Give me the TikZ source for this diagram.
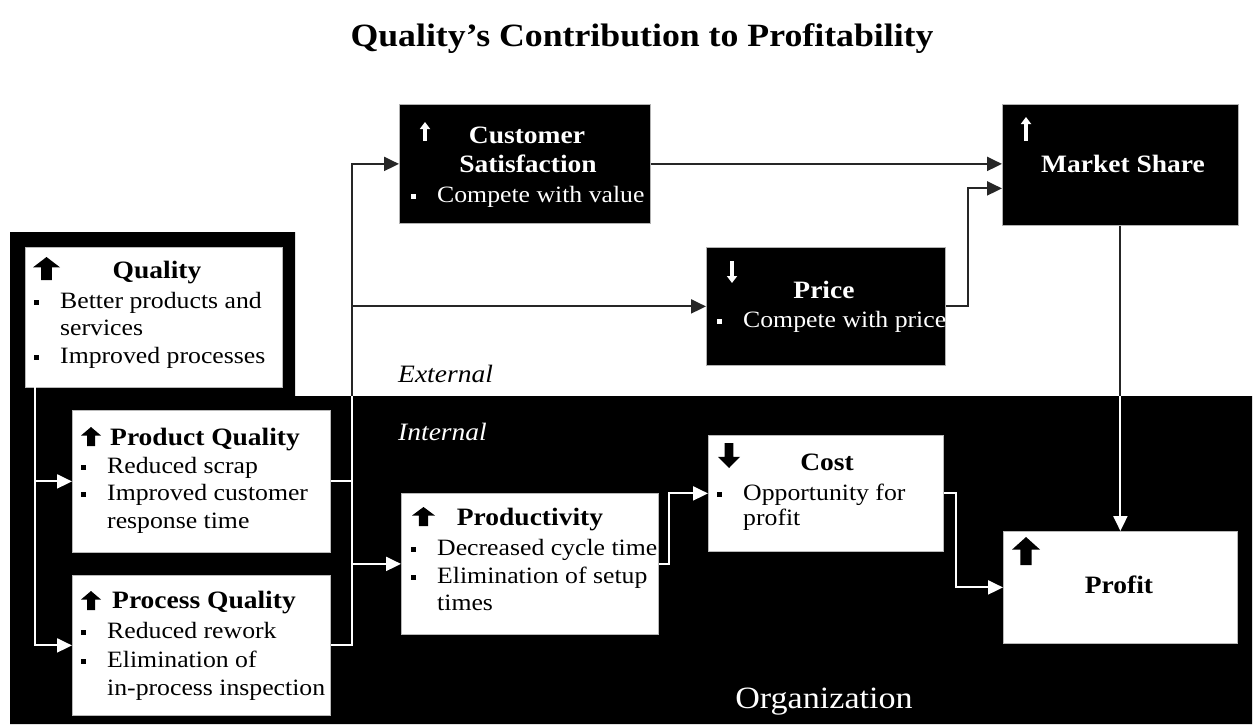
\documentclass[tikz,border=0pt]{standalone}
\usepackage{fontspec}
\setmainfont{Liberation Serif}[FakeStretch=1.1]
\usetikzlibrary{arrows.meta}

% small square bullet hanging to the left of an item
\newcommand\bulitem{\llap{\rule[3pt]{5.5pt}{5.5pt}\hspace{21pt}}}
% heavy block arrows: left x, top y, width, height
\newcommand\blockup[4]{%
  \fill (#1+#3/2,#2) -- (#1+#3,#2+0.45*#4) -- (#1+0.7*#3,#2+0.45*#4) -- (#1+0.7*#3,#2+#4)
     -- (#1+0.3*#3,#2+#4) -- (#1+0.3*#3,#2+0.45*#4) -- (#1,#2+0.45*#4) -- cycle;}
\newcommand\blockdown[4]{%
  \fill (#1+#3/2,#2+#4) -- (#1+#3,#2+0.55*#4) -- (#1+0.7*#3,#2+0.55*#4) -- (#1+0.7*#3,#2)
     -- (#1+0.3*#3,#2) -- (#1+0.3*#3,#2+0.55*#4) -- (#1,#2+0.55*#4) -- cycle;}

\tikzset{
  wbox/.style={draw=gray!55, line width=0.8pt, fill=white, inner sep=0pt, anchor=north west},
  bbox/.style={draw=gray!60, line width=0.8pt, fill=black, inner sep=0pt, anchor=north west},
  body/.style={font=\fontsize{23.4}{28}\selectfont, inner sep=0pt, anchor=base west},
  headc/.style={font=\fontsize{25}{28}\selectfont\bfseries, inner sep=0pt, anchor=base},
  headl/.style={font=\fontsize{25}{28}\selectfont\bfseries, inner sep=0pt, anchor=base west},
  conn/.style={line width=2pt, draw=wirecol},
  arr/.style={conn, -{Triangle[length=15pt,width=14pt]}},
  thinarr/.style={white, line width=3.4pt, -{Triangle[length=7pt,width=10pt]}},
}

% all connectors; drawn twice, clipped to the white and the black zone
\newcommand\wiring{%
  \coordinate (qtap) at (35,387);
  \coordinate (busx) at (352,0);
  \draw[arr] (qtap) |- (prodq.west);
  \draw[arr] (qtap) |- (procq.west);
  \draw[conn] (prodq.east) -- (prodq.east -| busx);
  \draw[arr] (procq.east) -| (custsat.west -| busx) -- (custsat.west);
  \draw[arr] (price.west -| busx) -- (price.west);
  \draw[arr] (prodv.west -| busx) -- (prodv.west);
  \draw[arr] (prodv.east) -- ++(10,0) |- (cost.west);
  \draw[arr] (cost.east) -- ++(12,0) |- (profit.west);
  \draw[arr] (custsat.east) -- (custsat.east -| mshare.west);
  \draw[arr] (price.east) -- ++(22,0) |- ([yshift=-23.5pt]mshare.west);
  \draw[arr] (mshare.south) -- (profit.north);
}

\begin{document}
\begin{tikzpicture}[x=1pt,y=-1pt]
  \useasboundingbox (0,0) rectangle (1255,724);
  \fill[white] (0,0) rectangle (1255,724);

  % organisation zone
  \fill[black] (10,232) -- (295,232) -- (295,396) -- (1252,396) -- (1252,724) -- (10,724) -- cycle;

  % boxes
  \node[wbox, minimum width=257pt, minimum height=140pt] (qual)   at (25,247)  {};
  \node[wbox, minimum width=258pt, minimum height=142pt] (prodq)  at (72,410)  {};
  \node[wbox, minimum width=258pt, minimum height=140pt] (procq)  at (72,575)  {};
  \node[wbox, minimum width=257pt, minimum height=141pt] (prodv)  at (401,493) {};
  \node[wbox, minimum width=235pt, minimum height=116pt] (cost)   at (708,435) {};
  \node[wbox, minimum width=234pt, minimum height=112pt] (profit) at (1003,531) {};
  \node[bbox, minimum width=251pt, minimum height=119pt] (custsat) at (399,104) {};
  \node[bbox, minimum width=239pt, minimum height=118pt] (price)  at (706,247) {};
  \node[bbox, minimum width=236pt, minimum height=121pt] (mshare) at (1002,104) {};

  % connectors
  \begin{scope}
    \clip (0,0) -- (1255,0) -- (1255,396) -- (295,396) -- (295,232) -- (0,232) -- cycle;
    \colorlet{wirecol}{black!85}
    \wiring
  \end{scope}
  \begin{scope}
    \clip (10,232) -- (295,232) -- (295,396) -- (1252,396) -- (1252,724) -- (10,724) -- cycle;
    \colorlet{wirecol}{white}
    \wiring
  \end{scope}

  % title and zone labels
  \node[font=\fontsize{32.5}{36}\selectfont\bfseries, inner sep=0pt, anchor=base] (title) at (642,46)
    {Quality’s Contribution to Profitability};
  \node[font=\fontsize{25}{28}\selectfont\itshape, inner sep=0pt, anchor=base west] (ext) at (398,382) {External};
  \node[font=\fontsize{25}{28}\selectfont\itshape, text=white, inner sep=0pt, anchor=base west] (int) at (398,440) {Internal};
  \node[font=\fontsize{31}{34}\selectfont, text=white, inner sep=0pt, anchor=base] (org) at (824,708) {Organization};

  % Quality
  \blockup{33}{257}{27}{23}
  \node[headc] (qh) at (157,278) {Quality};
  \node[body] (q1) at (60,308) {\bulitem Better products and};
  \node[body] (q2) at (60,335) {services};
  \node[body] (q3) at (60,363) {\bulitem Improved processes};

  % Product Quality
  \blockup{81}{427}{20}{19}
  \node[headl] (pqh) at (110,445) {Product Quality};
  \node[body] (pq1) at (107,473) {\bulitem Reduced scrap};
  \node[body] (pq2) at (107,500) {\bulitem Improved customer};
  \node[body] (pq3) at (107,528) {response time};

  % Process Quality
  \blockup{81}{591}{20}{19}
  \node[headl] (pch) at (112,608) {Process Quality};
  \node[body] (pc1) at (107,638) {\bulitem Reduced rework};
  \node[body] (pc2) at (107,667) {\bulitem Elimination of};
  \node[body] (pc3) at (107,695) {in-process inspection};

  % Productivity
  \blockup{412}{507}{23}{19}
  \node[headc] (pvh) at (530,525) {Productivity};
  \node[body] (pv1) at (437,555) {\bulitem Decreased cycle time};
  \node[body] (pv2) at (437,583) {\bulitem Elimination of setup};
  \node[body] (pv3) at (437,610) {times};

  % Cost
  \blockdown{718}{443}{22}{25}
  \node[headc] (ch) at (827,470) {Cost};
  \node[body] (c1) at (743,500) {\bulitem Opportunity for};
  \node[body] (c2) at (743,525) {profit};

  % Profit
  \blockup{1012}{537}{28}{28}
  \node[headc] (pfh) at (1119,593) {Profit};

  % Customer Satisfaction
  \draw[thinarr] (425,141) -- (425,122);
  \node[headc, text=white] (csh1) at (527,143) {Customer};
  \node[headc, text=white] (csh2) at (528,172) {Satisfaction};
  \node[body, text=white] (cs1) at (437,202) {\bulitem Compete with value};

  % Price
  \draw[thinarr] (732,261) -- (732,283);
  \node[headc, text=white] (prh) at (824,298) {Price};
  \node[body, text=white] (pr1) at (743,327) {\bulitem Compete with price};

  % Market Share
  \draw[thinarr] (1026,141) -- (1026,117);
  \node[headc, text=white] (msh) at (1123,172) {Market Share};
\end{tikzpicture}
\end{document}
